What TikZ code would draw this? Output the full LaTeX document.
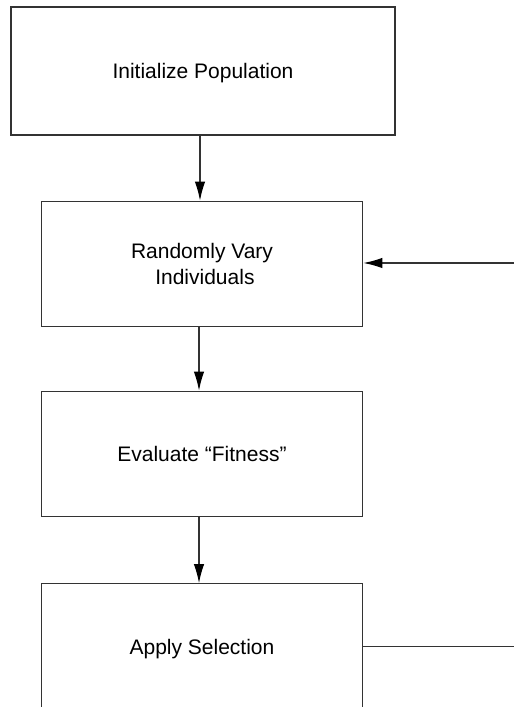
\documentclass[tikz,border=0pt]{standalone}
\usepackage{fontspec}
\setmainfont{Liberation Sans}
\usetikzlibrary{arrows.meta}

\begin{document}
\begin{tikzpicture}[x=0.5pt,y=0.5pt,>={Latex[length=9.5pt,width=5.2pt,color=black]},line width=0.6pt,draw=black!80,
    stage/.style={draw=black!80,minimum width=160.75pt,minimum height=62.75pt,inner sep=0pt,
        align=center,text depth=0pt,font=\fontsize{10.5}{13}\selectfont}]
    \useasboundingbox (0,0) rectangle (514,707);
    \node[stage,minimum width=192pt,minimum height=64pt] (init) at (203,636) {Initialize Population};
    \node[stage] (vary) at (202,443) {Randomly Vary\\\ Individuals};
    \node[stage] (eval) at (202,253) {Evaluate “Fitness”};
    \node[stage] (select) at (202,60.5) {Apply Selection};
    \coordinate (loopin) at (514,444);
    \coordinate (loopout) at (514,60.5);
    \draw[->] ([xshift=-1.5pt]init.south) -- ([xshift=-1.5pt]init.south |- vary.north);
    \draw[->] ([xshift=-1.5pt]vary.south) -- ([xshift=-1.5pt]eval.north);
    \draw[->] ([xshift=-1.5pt]eval.south) -- ([xshift=-1.5pt]select.north);
    \draw[->] (loopin) -- (loopin -| vary.east);
    \draw (select.east) -- (loopout);
\end{tikzpicture}
\end{document}
